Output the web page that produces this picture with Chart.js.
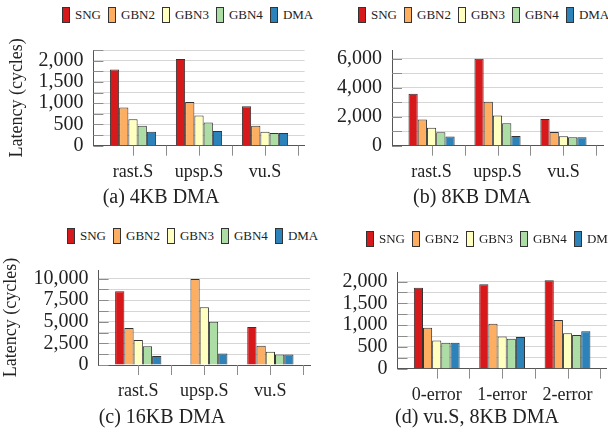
<!DOCTYPE html>
<html>
<head>
<meta charset="utf-8">
<script src="https://cdn.jsdelivr.net/npm/chart.js@4/dist/chart.umd.min.js"></script>
<style>
	body{margin:0;width:608px;height:432px;overflow:hidden;background:#fff;position:relative;font-family:"Liberation Serif","Times New Roman",serif;color:#222;}
	canvas{position:absolute;}
	.legend{position:absolute;white-space:nowrap;font-size:13px;line-height:16px;}
	.legend .item{display:inline-flex;align-items:center;margin-right:7px;}
	.legend .item i{display:inline-block;width:8px;height:16px;border:1px solid #333;box-sizing:border-box;margin-right:5px;}
	.caption{position:absolute;width:240px;text-align:center;font-size:20px;line-height:24px;white-space:nowrap;}
</style>
</head>
<body>
<canvas id="c4" width="320" height="160" style="left:0;top:28px"></canvas>
<canvas id="c8" width="288" height="160" style="left:320px;top:28px"></canvas>
<canvas id="c16" width="320" height="160" style="left:0;top:248px"></canvas>
<canvas id="cerr" width="288" height="160" style="left:320px;top:250px"></canvas>
<div class="legend" id="l4" style="left:62px;top:7px"></div>
<div class="legend" id="l8" style="left:358px;top:7px"></div>
<div class="legend" id="l16" style="left:67px;top:228px"></div>
<div class="legend" id="lerr" style="left:366px;top:231px"></div>
<div class="caption" style="left:41px;top:184px">(a) 4KB DMA</div>
<div class="caption" style="left:352px;top:184px">(b) 8KB DMA</div>
<div class="caption" style="left:42px;top:404px">(c) 16KB DMA</div>
<div class="caption" style="left:357px;top:404px">(d) vu.S, 8KB DMA</div>
<script>
var seriesNames=["SNG","GBN2","GBN3","GBN4","DMA"];
var seriesColors=["#d7191c","#fdae61","#ffffbf","#abdda4","#2b83ba"];
var benchmarks=["rast.S","upsp.S","vu.S"];
var errorCases=["0-error","1-error","2-error"];

// (a) 4KB DMA
var sng4=[1790,2040,930];
var gbn2_4=[900,1030,470];
var gbn3_4=[620,710,330];
var gbn4_4=[470,545,300];
var dma4=[330,345,300];
// (b) 8KB DMA
var sng8=[3580,6000,1850];
var gbn2_8=[1810,3030,950];
var gbn3_8=[1240,2080,650];
var gbn4_8=[930,1540,590];
var dma8=[630,670,590];
// (c) 16KB DMA (no SNG bar for upsp.S)
var sng16=[8540,0,4390];
var gbn2_16=[4290,9950,2230];
var gbn3_16=[2890,6690,1530];
var gbn4_16=[2160,5020,1220];
var dma16=[1050,1320,1220];
// (d) vu.S, 8KB DMA
var sngErr=[1860,1940,2030];
var gbn2Err=[940,1030,1120];
var gbn3Err=[645,740,815];
var gbn4Err=[595,690,775];
var dmaErr=[595,730,860];

// y axis: max, grid step, labelled step
var yMax=[2250,6600,11000,2220];
var yGridStep=[250,1000,1250,250];
var yLabelStep=[500,2000,2500,500];

var serif='"Liberation Serif","Times New Roman",serif';

// tick marks under the x axis (centre + between groups) and short inner ticks on the y axis
var tickMarks={
	id:"tickMarks",
	afterDraw:function(chart){
		var ctx=chart.ctx,x=chart.scales.x,y=chart.scales.y;
		ctx.save();
		ctx.strokeStyle="#8c8c8c";
		ctx.lineWidth=1;
		ctx.beginPath();
		x.ticks.forEach(function(t){
			[t.value,t.value+0.5].forEach(function(v){
				var px=Math.round(x.getPixelForValue(v))+0.5;
				ctx.moveTo(px,y.bottom);
				ctx.lineTo(px,y.bottom+10);
			});
		});
		y.ticks.forEach(function(t){
			var py=Math.round(y.getPixelForValue(t.value))+0.5;
			ctx.moveTo(x.left,py);
			ctx.lineTo(x.left+10,py);
		});
		ctx.stroke();
		ctx.restore();
	}
};

var htmlLegend={
	id:"htmlLegend",
	afterUpdate:function(chart,args,opts){
		var box=document.getElementById(opts.containerID);
		box.innerHTML="";
		chart.options.plugins.legend.labels.generateLabels(chart).forEach(function(item){
			var el=document.createElement("span");
			el.className="item";
			var sw=document.createElement("i");
			sw.style.background=item.fillStyle;
			el.appendChild(sw);
			el.appendChild(document.createTextNode(item.text));
			box.appendChild(el);
		});
	}
};

function makePanel(canvasId,legendId,cats,values,k,geo){
	var datasets=[];
	for(var i=0;i<seriesNames.length;i++){
		datasets.push({
			label:seriesNames[i],
			data:values[i].map(function(v,j){return {x:j,y:v};}),
			backgroundColor:seriesColors[i],
			borderColor:"#333",
			borderWidth:1,
			categoryPercentage:0.7,
			barPercentage:1
		});
	}
	var step=yGridStep[k],major=yLabelStep[k];
	return new Chart(canvasId,{
		type:"bar",
		data:{datasets:datasets},
		plugins:[tickMarks,htmlLegend],
		options:{
			responsive:false,
			animation:false,
			layout:{padding:{left:0,top:geo.top,right:geo.right,bottom:0}},
			plugins:{
				legend:{display:false},
				tooltip:{enabled:false},
				htmlLegend:{containerID:legendId}
			},
			scales:{
				x:{
					type:"linear",
					offset:false,
					bounds:"data",
					min:-0.6,
					max:2.6,
					grid:{display:false,drawTicks:false,offset:false},
					border:{display:true,color:"#555"},
					afterBuildTicks:function(s){s.ticks=cats.map(function(c,i){return {value:i};});},
					afterFit:function(s){s.height=geo.xh;},
					ticks:{
						autoSkip:false,maxRotation:0,padding:15.5,color:"#222",
						font:{family:serif,size:18},
						callback:function(v){return cats[Math.round(v)];}
					}
				},
				y:{
					min:0,
					max:yMax[k],
					bounds:"data",
					grid:{color:"#d6d6d6",drawTicks:false},
					border:{display:true,color:"#555"},
					afterBuildTicks:function(s){
						var t=[];
						for(var v=0;v<=yMax[k];v+=step){t.push({value:v});}
						s.ticks=t;
					},
					afterFit:function(s){s.width=geo.yw;},
					title:{
						display:geo.ytitle,
						text:"Latency (cycles)",
						color:"#222",
						font:{family:serif,size:18},
						padding:{top:geo.tpad,bottom:0}
					},
					ticks:{
						autoSkip:false,padding:10,color:"#222",
						font:{family:serif,size:20},
						callback:function(v){
							var r=Math.round(v);
							return r%major===0?r.toLocaleString("en-US"):"";
						}
					}
				}
			}
		}
	});
}

makePanel("c4","l4",benchmarks,[sng4,gbn2_4,gbn3_4,gbn4_4,dma4],0,{top:12.7,right:15.4,yw:93.4,xh:42.3,ytitle:true,tpad:6});
makePanel("c8","l8",benchmarks,[sng8,gbn2_8,gbn3_8,gbn4_8,dma8],1,{top:12.7,right:5,yw:72,xh:42.3,ytitle:false,tpad:0});
makePanel("c16","l16",benchmarks,[sng16,gbn2_16,gbn3_16,gbn4_16,dma16],2,{top:11.3,right:10,yw:98.6,xh:43,ytitle:true,tpad:0});
makePanel("cerr","lerr",errorCases,[sngErr,gbn2Err,gbn3Err,gbn4Err,dmaErr],3,{top:14.3,right:0,yw:77.5,xh:41.3,ytitle:false,tpad:0});
</script>
</body>
</html>
